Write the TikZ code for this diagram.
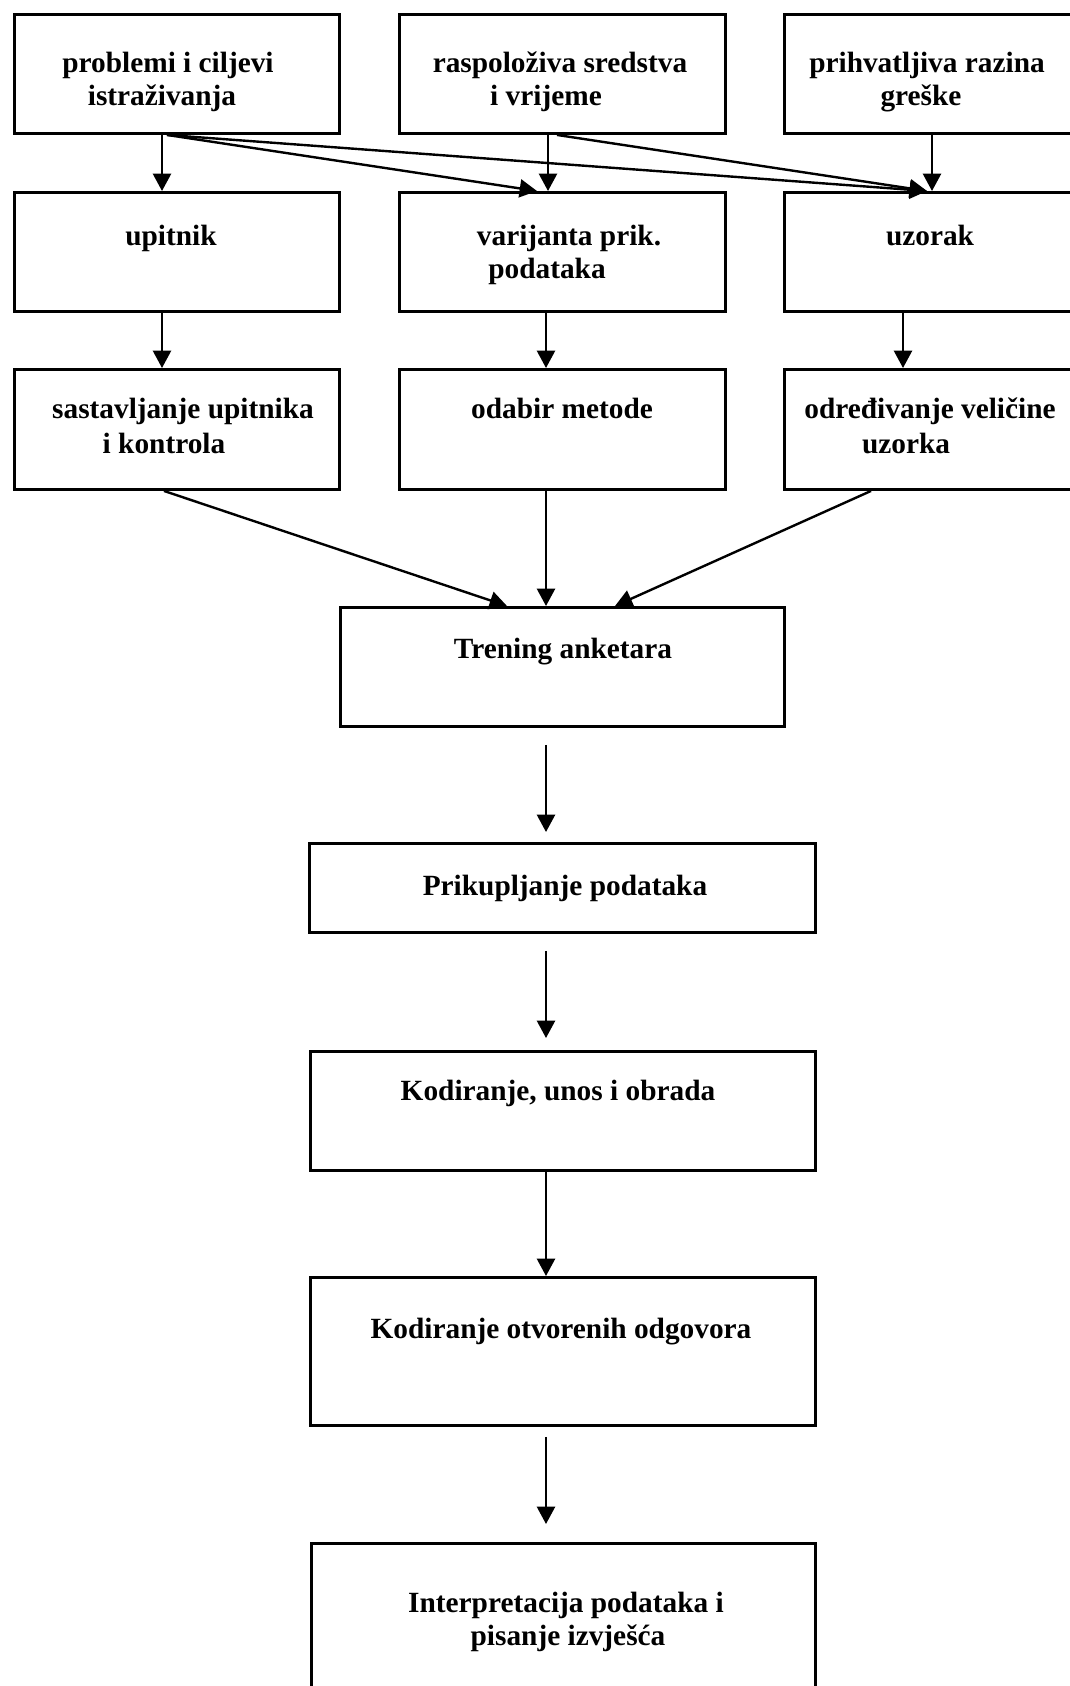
\documentclass[tikz,border=0pt]{standalone}
\usepackage{fontspec}
\setmainfont{Liberation Serif}
\usetikzlibrary{arrows.meta}
\begin{document}
\begin{tikzpicture}[x=0.75pt,y=-0.75pt,
  box/.style={draw=black,line width=2.2pt,rectangle,inner sep=0pt,anchor=north west},
  lbl/.style={anchor=base,inner sep=0pt,font=\fontsize{22}{26}\selectfont\bfseries},
  arr/.style={line width=1.8pt,-{Triangle[length=13pt,width=13.5pt]}}]
\clip (0,0) rectangle (1070,1686);
\fill[white] (0,0) rectangle (1070,1686);
% boxes
\node[box,minimum width=325*0.75pt,minimum height=119*0.75pt] (b1) at (13,13) {};
\node[box,minimum width=326*0.75pt,minimum height=119*0.75pt] (b2) at (398,13) {};
\node[box,minimum width=300*0.75pt,minimum height=119*0.75pt] (b3) at (783,13) {};
\node[box,minimum width=325*0.75pt,minimum height=119*0.75pt] (r2a) at (13,191) {};
\node[box,minimum width=326*0.75pt,minimum height=119*0.75pt] (r2b) at (398,191) {};
\node[box,minimum width=300*0.75pt,minimum height=119*0.75pt] (r2c) at (783,191) {};
\node[box,minimum width=325*0.75pt,minimum height=120*0.75pt] (r3a) at (13,368) {};
\node[box,minimum width=326*0.75pt,minimum height=120*0.75pt] (r3b) at (398,368) {};
\node[box,minimum width=300*0.75pt,minimum height=120*0.75pt] (r3c) at (783,368) {};
\node[box,minimum width=444*0.75pt,minimum height=119*0.75pt] (tr) at (339,606) {};
\node[box,minimum width=506*0.75pt,minimum height=89*0.75pt] (pr) at (308,842) {};
\node[box,minimum width=505*0.75pt,minimum height=119*0.75pt] (kod) at (309,1050) {};
\node[box,minimum width=505*0.75pt,minimum height=148*0.75pt] (otv) at (309,1276) {};
\node[box,minimum width=504*0.75pt,minimum height=200*0.75pt] (int) at (310,1542) {};
% texts
\node[lbl] (t1a) at (168,72) {problemi i ciljevi};
\node[lbl] (t1b) at (162,105) {istraživanja};
\node[lbl] (t2a) at (560,72) {raspoloživa sredstva};
\node[lbl] (t2b) at (546,105) {i vrijeme};
\node[lbl] (t3a) at (927,72) {prihvatljiva razina};
\node[lbl] (t3b) at (921,105) {greške};
\node[lbl] (t4) at (171,245) {upitnik};
\node[lbl] (t5a) at (569,245) {varijanta prik.};
\node[lbl] (t5b) at (547,278) {podataka};
\node[lbl] (t6) at (930,245) {uzorak};
\node[lbl] (t7a) at (183,418) {sastavljanje upitnika};
\node[lbl] (t7b) at (164,453) {i kontrola};
\node[lbl] (t8) at (562,418) {odabir metode};
\node[lbl] (t9a) at (930,418) {određivanje veličine};
\node[lbl] (t9b) at (906,453) {uzorka};
\node[lbl] (t10) at (563,658) {Trening anketara};
\node[lbl] (t11) at (565,895) {Prikupljanje podataka};
\node[lbl] (t12) at (558,1100) {Kodiranje, unos i obrada};
\node[lbl] (t13) at (561,1338) {Kodiranje otvorenih odgovora};
\node[lbl] (t14a) at (566,1612) {Interpretacija podataka i};
\node[lbl] (t14b) at (568,1645) {pisanje izvješća};
% column coordinates
\coordinate (x162) at (162,0);
\coordinate (x164) at (164,0);
\coordinate (x167) at (167,0);
\coordinate (x507) at (507,0);
\coordinate (x537) at (537,0);
\coordinate (x546) at (546,0);
\coordinate (x548) at (548,0);
\coordinate (x557) at (557,0);
\coordinate (x615) at (615,0);
\coordinate (x871) at (871,0);
\coordinate (x903) at (903,0);
\coordinate (x927) at (927,0);
\coordinate (x932) at (932,0);
% connectors
\draw[arr] (b1.south -| x162) -- (r2a.north -| x162);
\draw[arr] (b1.south -| x167) -- (r2b.north -| x537);
\draw[arr] (b1.south -| x167) -- (r2c.north -| x927);
\draw[arr] (b2.south -| x548) -- (r2b.north -| x548);
\draw[arr] (b2.south -| x557) -- (r2c.north -| x927);
\draw[arr] (b3.south -| x932) -- (r2c.north -| x932);
\draw[arr] (r2a.south -| x162) -- (r3a.north -| x162);
\draw[arr] (r2b.south -| x546) -- (r3b.north -| x546);
\draw[arr] (r2c.south -| x903) -- (r3c.north -| x903);
\draw[arr] (r3a.south -| x164) -- (tr.north -| x507);
\draw[arr] (r3b.south -| x546) -- (tr.north -| x546);
\draw[arr] (r3c.south -| x871) -- (tr.north -| x615);
\draw[arr,shorten <=12.75pt,shorten >=7.5pt] (tr.south -| x546) -- (pr.north -| x546);
\draw[arr,shorten <=12.75pt,shorten >=9pt] (pr.south -| x546) -- (kod.north -| x546);
\draw[arr] (kod.south -| x546) -- (otv.north -| x546);
\draw[arr,shorten <=7.5pt,shorten >=13.5pt] (otv.south -| x546) -- (int.north -| x546);
\end{tikzpicture}
\end{document}
